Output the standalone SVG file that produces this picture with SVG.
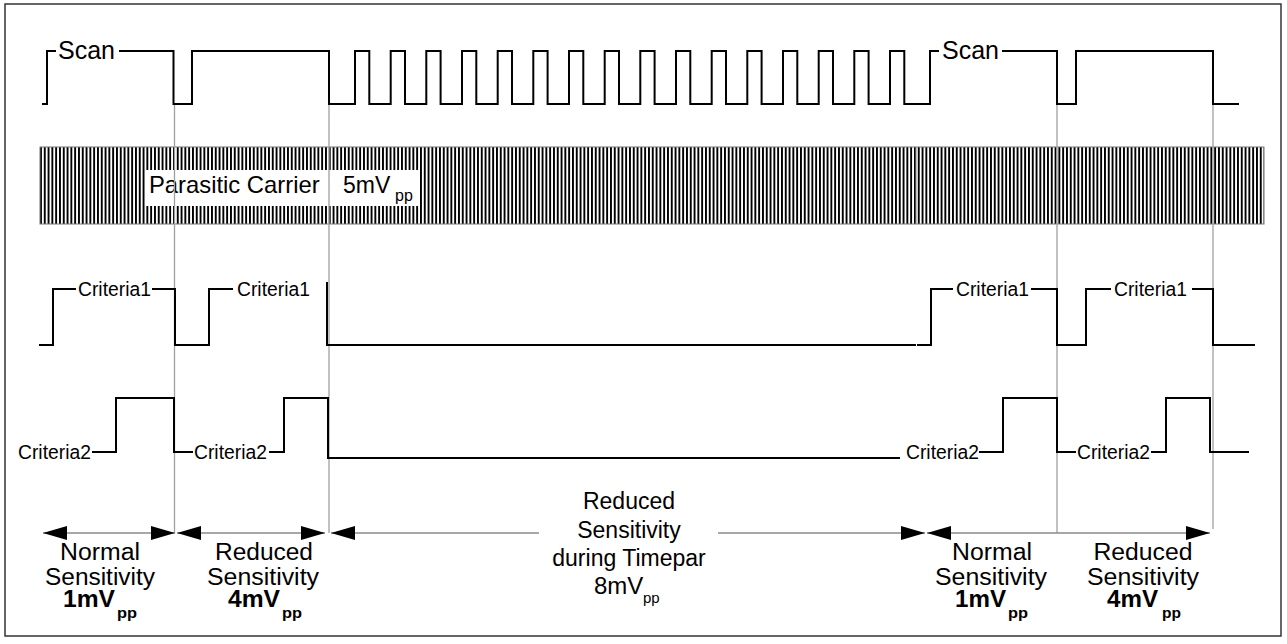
<svg xmlns="http://www.w3.org/2000/svg" width="1287" height="644" viewBox="0 0 1287 644">
<style>
.wave{fill:none;stroke:#000;stroke-width:2;stroke-linejoin:miter;stroke-linecap:square}
.div{stroke:#a0a0a0;stroke-width:1.3;fill:none}
.arr{stroke:#8a8a8a;stroke-width:1.6;fill:none}
.t{font-family:"Liberation Sans",Arial,sans-serif;fill:#000}
.scan{font-size:25px}
.crit{font-size:19.3px}
.lbl{font-size:23px;text-anchor:middle}
.big{font-size:23px;font-weight:bold}
.sub{font-size:15px}
.subb{font-size:15px;font-weight:bold}
</style>
<defs>
<pattern id="carrier" patternUnits="userSpaceOnUse" x="40" y="0" width="3.8" height="10">
<rect x="0" y="0" width="1.9" height="10" fill="#000"/>
</pattern>
<marker id="ah" viewBox="0 0 24 14" refX="24" refY="7" markerWidth="24" markerHeight="14" markerUnits="userSpaceOnUse" orient="auto-start-reverse">
<path d="M0,0 L24,7 L0,14 Z" fill="#000"/>
</marker>
</defs>
<rect x="5" y="4" width="1276" height="632" fill="#fff" stroke="#333" stroke-width="1.5"/>

<g id="carrier-band">
<rect x="40" y="147" width="1224" height="77" fill="url(#carrier)" stroke="#777" stroke-width="1"/>
<line x1="916" y1="147" x2="916" y2="224" stroke="#888" stroke-width="1"/>
<rect x="145" y="170" width="274" height="36" fill="#fff"/>
<text class="t" x="149" y="193" font-size="23.8">Parasitic Carrier</text>
<text class="t" x="343" y="193" font-size="23">5mV</text>
<text class="t" x="395" y="201" font-size="16">pp</text>
</g>

<g id="dividers">
<line class="div" x1="174.5" y1="104" x2="174.5" y2="533"/>
<line class="div" x1="329" y1="104" x2="329" y2="533"/>
<line class="div" x1="1057" y1="104" x2="1057" y2="533"/>
<line class="div" x1="1213" y1="104" x2="1213" y2="529"/>
</g>

<g id="scan">
<path class="wave" d="M43,104 H47 V51 H55 M120,51 H173.5 V104 H192 V51 H329 V104 H355 V51 H369.3 V104 H390.7 V51 H405 V104 H426.3 V51 H440.6 V104 H462 V51 H476.3 V104 H497.7 V51 H512 V104 H533.3 V51 H547.6 V104 H569 V51 H583.3 V104 H604.7 V51 H619 V104 H640.3 V51 H654.6 V104 H676 V51 H690.3 V104 H711.7 V51 H726 V104 H747.3 V51 H761.6 V104 H783 V51 H797.3 V104 H818.7 V51 H833 V104 H854.3 V51 H868.6 V104 H890 V51 H904.3 V104 H930 V51 H938 M1003,51 H1057 V104 H1076 V51 H1213 V104 H1238"/>
<text class="t scan" x="58" y="59">Scan</text>
<text class="t scan" x="942" y="59">Scan</text>
</g>

<g id="criteria1">
<path class="wave" d="M40,345 H53 V289 H75 M153,289 H175 V345 H209 V289 H232 M327,283 V345 H915 M918,345 H931 V289 H952 M1032,289 H1057 V345 H1086 V289 H1110"/>
<path class="wave" stroke-width="3" d="M1193,289 H1213 V345 H1254"/>
<text class="t crit" x="78" y="296">Criteria1</text>
<text class="t crit" x="237" y="296">Criteria1</text>
<text class="t crit" x="956" y="296">Criteria1</text>
<text class="t crit" x="1114" y="296">Criteria1</text>
</g>

<g id="criteria2">
<path class="wave" d="M93,452 H116 V398 H174 V452 H192 M270,452 H284 V398 H328 V458 H899 M980,452 H1003 V398 H1057 V452 H1075 M1152,452 H1166 V398 H1210 V452 H1248"/>
<text class="t crit" x="18" y="459">Criteria2</text>
<text class="t crit" x="194" y="459">Criteria2</text>
<text class="t crit" x="906" y="459">Criteria2</text>
<text class="t crit" x="1077" y="459">Criteria2</text>
</g>

<g id="connectors">
<path class="arr" d="M43,533 H175" marker-start="url(#ah)" marker-end="url(#ah)"/>
<path class="arr" d="M177,533 H325" marker-start="url(#ah)" marker-end="url(#ah)"/>
<path class="arr" d="M331,533 H539" marker-start="url(#ah)"/>
<path class="arr" d="M718,533 H925" marker-end="url(#ah)"/>
<path class="arr" d="M927,533 H1210" marker-start="url(#ah)" marker-end="url(#ah)"/>
</g>

<g id="label-normal-1">
<text class="t lbl" x="100" y="560" textLength="80" lengthAdjust="spacingAndGlyphs">Normal</text>
<text class="t lbl" x="100" y="585" textLength="110" lengthAdjust="spacingAndGlyphs">Sensitivity</text>
<text class="t big" x="63" y="607" textLength="52" lengthAdjust="spacingAndGlyphs">1mV</text>
<text class="t subb" x="117" y="618" textLength="20" lengthAdjust="spacingAndGlyphs">pp</text>
</g>
<g id="label-reduced-1">
<text class="t lbl" x="264" y="560" textLength="98" lengthAdjust="spacingAndGlyphs">Reduced</text>
<text class="t lbl" x="263" y="585" textLength="112" lengthAdjust="spacingAndGlyphs">Sensitivity</text>
<text class="t big" x="228" y="607" textLength="52" lengthAdjust="spacingAndGlyphs">4mV</text>
<text class="t subb" x="282" y="618" textLength="20" lengthAdjust="spacingAndGlyphs">pp</text>
</g>
<g id="label-timepar">
<text class="t lbl" x="629" y="509" font-size="24">Reduced</text>
<text class="t lbl" x="629" y="538" font-size="24">Sensitivity</text>
<text class="t lbl" x="629" y="566" font-size="24">during Timepar</text>
<text class="t" x="594" y="594" font-size="24">8mV</text>
<text class="t sub" x="643" y="603">pp</text>
</g>
<g id="label-normal-2">
<text class="t lbl" x="992" y="560" textLength="80" lengthAdjust="spacingAndGlyphs">Normal</text>
<text class="t lbl" x="991" y="585" textLength="112" lengthAdjust="spacingAndGlyphs">Sensitivity</text>
<text class="t big" x="955" y="607" textLength="51" lengthAdjust="spacingAndGlyphs">1mV</text>
<text class="t subb" x="1008" y="618" textLength="20" lengthAdjust="spacingAndGlyphs">pp</text>
</g>
<g id="label-reduced-2">
<text class="t lbl" x="1143" y="560" textLength="99" lengthAdjust="spacingAndGlyphs">Reduced</text>
<text class="t lbl" x="1143" y="585" textLength="112" lengthAdjust="spacingAndGlyphs">Sensitivity</text>
<text class="t big" x="1107" y="607" textLength="51" lengthAdjust="spacingAndGlyphs">4mV</text>
<text class="t subb" x="1162" y="618" textLength="19" lengthAdjust="spacingAndGlyphs">pp</text>
</g>
</svg>
